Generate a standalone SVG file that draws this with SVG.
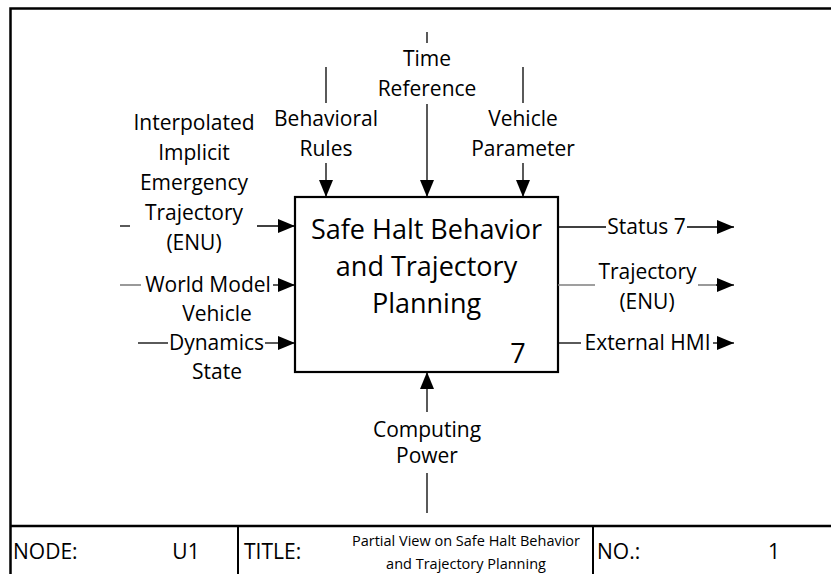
<svg xmlns="http://www.w3.org/2000/svg" width="831" height="574" viewBox="0 0 831 574">
  <style>
    text { font-family: "Open Sans", "Liberation Sans", sans-serif; fill: #000; }
    .lbl { font-size: 21px; }
    .mid { text-anchor: middle; }
    .box-title { font-size: 27px; text-anchor: middle; }
    .small { font-size: 14.5px; text-anchor: middle; }
    .frame { stroke: #000; stroke-width: 2.5; fill: none; }
    .cell { stroke: #000; stroke-width: 2; fill: none; }
    .flow { stroke: #000; stroke-width: 1.3; fill: none; }
    .flow.grey { stroke: #7f7f7f; stroke-width: 1.6; }
    .arrow { marker-end: url(#head); }
  </style>
  <defs>
    <marker id="head" viewBox="0 0 17 14" refX="17" refY="7" markerWidth="17" markerHeight="14" markerUnits="userSpaceOnUse" orient="auto">
      <polygon points="0,0 17,7 0,14" fill="#000"/>
    </marker>
  </defs>

  <rect width="831" height="574" fill="#fff"/>

  <!-- sheet frame and title block -->
  <g id="frame">
    <path class="frame" d="M10.5,574 V8.5 H831"/>
    <line class="frame" x1="10" y1="526" x2="831" y2="526"/>
    <line class="cell" x1="238" y1="526" x2="238" y2="574"/>
    <line class="cell" x1="593" y1="526" x2="593" y2="574"/>
    <text class="lbl" x="13" y="559">NODE:</text>
    <text class="lbl mid" x="186" y="559">U1</text>
    <text class="lbl" x="244" y="559">TITLE:</text>
    <text class="small" x="466" y="546">Partial View on Safe Halt Behavior</text>
    <text class="small" x="466" y="569">and Trajectory Planning</text>
    <text class="lbl" x="597" y="559">NO.:</text>
    <text class="lbl mid" x="774" y="559">1</text>
  </g>

  <!-- activity box -->
  <g id="activity-7">
    <rect x="295" y="197" width="263" height="175" fill="#fff" stroke="#000" stroke-width="2.2"/>
    <text class="box-title" x="426.5" y="239">Safe Halt Behavior</text>
    <text class="box-title" x="426.5" y="276">and Trajectory</text>
    <text class="box-title" x="426.5" y="313">Planning</text>
    <text class="box-title" x="518" y="363">7</text>
  </g>

  <!-- arrows -->
  <g id="connectors">
    <!-- inputs -->
    <line class="flow" x1="120" y1="226" x2="130" y2="226"/>
    <line class="flow arrow" x1="257" y1="226" x2="295" y2="226"/>
    <line class="flow grey" x1="120" y1="285" x2="141" y2="285"/>
    <line class="flow arrow" x1="273" y1="285" x2="295" y2="285"/>
    <line class="flow" x1="138" y1="343" x2="168" y2="343"/>
    <line class="flow arrow" x1="265" y1="343" x2="295" y2="343"/>
    <!-- controls -->
    <line class="flow" x1="326" y1="67" x2="326" y2="103"/>
    <line class="flow arrow" x1="326" y1="163" x2="326" y2="197"/>
    <line class="flow" x1="427" y1="32" x2="427" y2="43"/>
    <line class="flow arrow" x1="427" y1="104" x2="427" y2="197"/>
    <line class="flow" x1="523" y1="67" x2="523" y2="103"/>
    <line class="flow arrow" x1="523" y1="163" x2="523" y2="197"/>
    <!-- mechanism -->
    <line class="flow" x1="427" y1="513" x2="427" y2="473"/>
    <line class="flow arrow" x1="427" y1="412" x2="427" y2="372"/>
    <!-- outputs -->
    <line class="flow" x1="558" y1="227" x2="606" y2="227"/>
    <line class="flow arrow" x1="687" y1="227" x2="734" y2="227"/>
    <line class="flow grey" x1="558" y1="285" x2="595" y2="285"/>
    <line class="flow grey" x1="698" y1="285" x2="717" y2="285"/>
    <line class="flow arrow" x1="716" y1="285" x2="734" y2="285"/>
    <line class="flow" x1="558" y1="343" x2="581" y2="343"/>
    <line class="flow arrow" x1="713" y1="343" x2="734" y2="343"/>
  </g>

  <!-- arrow labels -->
  <g id="label-emergency-trajectory" class="lbl mid">
    <text class="lbl mid" x="194" y="130">Interpolated</text>
    <text class="lbl mid" x="194" y="160">Implicit</text>
    <text class="lbl mid" x="194" y="190">Emergency</text>
    <text class="lbl mid" x="194" y="220">Trajectory</text>
    <text class="lbl mid" x="194" y="250">(ENU)</text>
  </g>
  <g id="label-world-model">
    <text class="lbl mid" x="208" y="292">World Model</text>
  </g>
  <g id="label-vehicle-dynamics">
    <text class="lbl mid" x="217" y="321">Vehicle</text>
    <text class="lbl mid" x="216.5" y="350">Dynamics</text>
    <text class="lbl mid" x="217" y="379">State</text>
  </g>
  <g id="label-behavioral-rules">
    <text class="lbl mid" x="326" y="126">Behavioral</text>
    <text class="lbl mid" x="326" y="156">Rules</text>
  </g>
  <g id="label-time-reference">
    <text class="lbl mid" x="427" y="66">Time</text>
    <text class="lbl mid" x="427" y="96">Reference</text>
  </g>
  <g id="label-vehicle-parameter">
    <text class="lbl mid" x="523" y="126">Vehicle</text>
    <text class="lbl mid" x="523" y="156">Parameter</text>
  </g>
  <g id="label-computing-power">
    <text class="lbl mid" x="427" y="437">Computing</text>
    <text class="lbl mid" x="427" y="463">Power</text>
  </g>
  <g id="label-status">
    <text class="lbl mid" x="646.5" y="234">Status 7</text>
  </g>
  <g id="label-trajectory-out">
    <text class="lbl mid" x="647.5" y="279">Trajectory</text>
    <text class="lbl mid" x="647" y="309">(ENU)</text>
  </g>
  <g id="label-external-hmi">
    <text class="lbl mid" x="647.5" y="350">External HMI</text>
  </g>
</svg>
